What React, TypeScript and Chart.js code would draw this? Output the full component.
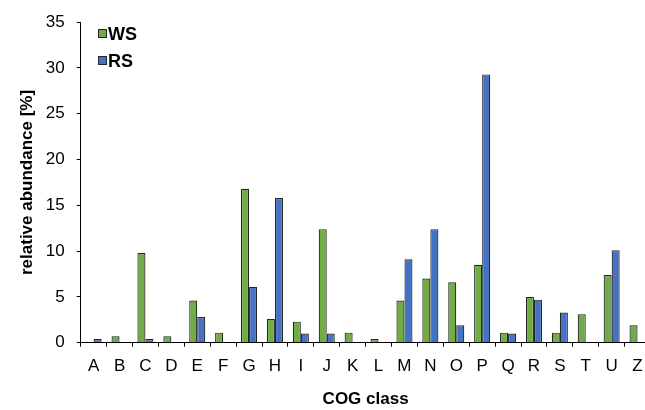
import React, { useEffect, useRef } from "react";
import { Chart, registerables } from "chart.js";

Chart.register(...registerables);

const categories = ["A","B","C","D","E","F","G","H","I","J","K","L","M","N","O","P","Q","R","S","T","U","Z"];
const wsValues = [0, 0.7, 9.8, 0.7, 4.6, 1.1, 16.8, 2.6, 2.3, 12.4, 1.1, 0.4, 4.6, 7.0, 6.6, 8.5, 1.1, 5.0, 1.1, 3.1, 7.4, 1.9];
const rsValues = [0.4, 0, 0.4, 0, 2.8, 0, 6.1, 15.8, 1.0, 1.0, 0, 0, 9.1, 12.4, 1.9, 29.3, 1.0, 4.7, 3.3, 0, 10.1, 0];
const yTicks = [0, 5, 10, 15, 20, 25, 30, 35];

const FONT = "'Liberation Sans', Arial, sans-serif";
const GREEN = "#70AD47";
const BLUE = "#4472C4";
const EDGE = "#262626";

const legendPlugin = {
  id: "insideLegend",
  afterDraw(chart: any) {
    const ctx = chart.ctx;
    const items = [
      { label: "WS", color: GREEN, y: 34 },
      { label: "RS", color: BLUE, y: 61 },
    ];
    ctx.save();
    items.forEach((it) => {
      ctx.fillStyle = it.color;
      ctx.strokeStyle = EDGE;
      ctx.lineWidth = 1;
      ctx.fillRect(98.5, it.y - 4.5, 8, 8);
      ctx.strokeRect(98.5, it.y - 4.5, 8, 8);
      ctx.fillStyle = "#000";
      ctx.font = `bold 18px ${FONT}`;
      ctx.textBaseline = "middle";
      ctx.textAlign = "left";
      ctx.fillText(it.label, 108, it.y + 1.5);
    });
    ctx.restore();
  },
};

export default function App() {
  const ref = useRef<HTMLCanvasElement>(null);
  useEffect(() => {
    if (!ref.current) return;
    const chart = new Chart(ref.current, {
      type: "bar",
      data: {
        labels: categories,
        datasets: [
          { label: "WS", data: wsValues, backgroundColor: GREEN, borderColor: EDGE, borderWidth: 1.2, categoryPercentage: 0.62, barPercentage: 1.0 },
          { label: "RS", data: rsValues, backgroundColor: BLUE, borderColor: EDGE, borderWidth: 1.2, categoryPercentage: 0.62, barPercentage: 1.0 },
        ],
      },
      options: {
        animation: false,
        responsive: false,
        layout: { padding: { left: 0, top: 17.3, right: 9.5, bottom: 0 } },
        plugins: { legend: { display: false }, tooltip: { enabled: false } },
        scales: {
          x: {
            grid: { display: true, drawOnChartArea: false, drawTicks: true, tickLength: 4, color: "#000", offset: true },
            border: { display: true, color: "#000", width: 1 },
            ticks: { color: "#000", font: { family: FONT, size: 17 }, padding: 9, maxRotation: 0, autoSkip: false },
            title: { display: true, text: "COG class", color: "#000", font: { family: FONT, size: 17, weight: "bold" }, padding: { top: 0, bottom: 0 } },
            afterFit: (s: any) => { s.height = 67.3; },
          },
          y: {
            min: 0,
            max: 35,
            afterBuildTicks: (s: any) => { s.ticks = yTicks.map((v) => ({ value: v })); },
            grid: { display: true, drawOnChartArea: false, drawTicks: true, tickLength: 4, color: "#000" },
            border: { display: true, color: "#000", width: 1 },
            ticks: { color: "#000", font: { family: FONT, size: 17 }, padding: 12 },
            title: { display: true, text: "relative abundance [%]", color: "#000", font: { family: FONT, size: 17, weight: "bold" }, padding: { top: 17, bottom: 0 } },
            afterFit: (s: any) => { s.width = 80.7; },
          },
        },
      },
      plugins: [legendPlugin],
    });
    return () => chart.destroy();
  }, []);
  return (
    <div style={{ position: "fixed", left: 0, top: 0, width: 645, height: 410, overflow: "hidden", background: "#fff" }}>
      <canvas ref={ref} width={660} height={410} style={{ display: "block" }} />
    </div>
  );
}
